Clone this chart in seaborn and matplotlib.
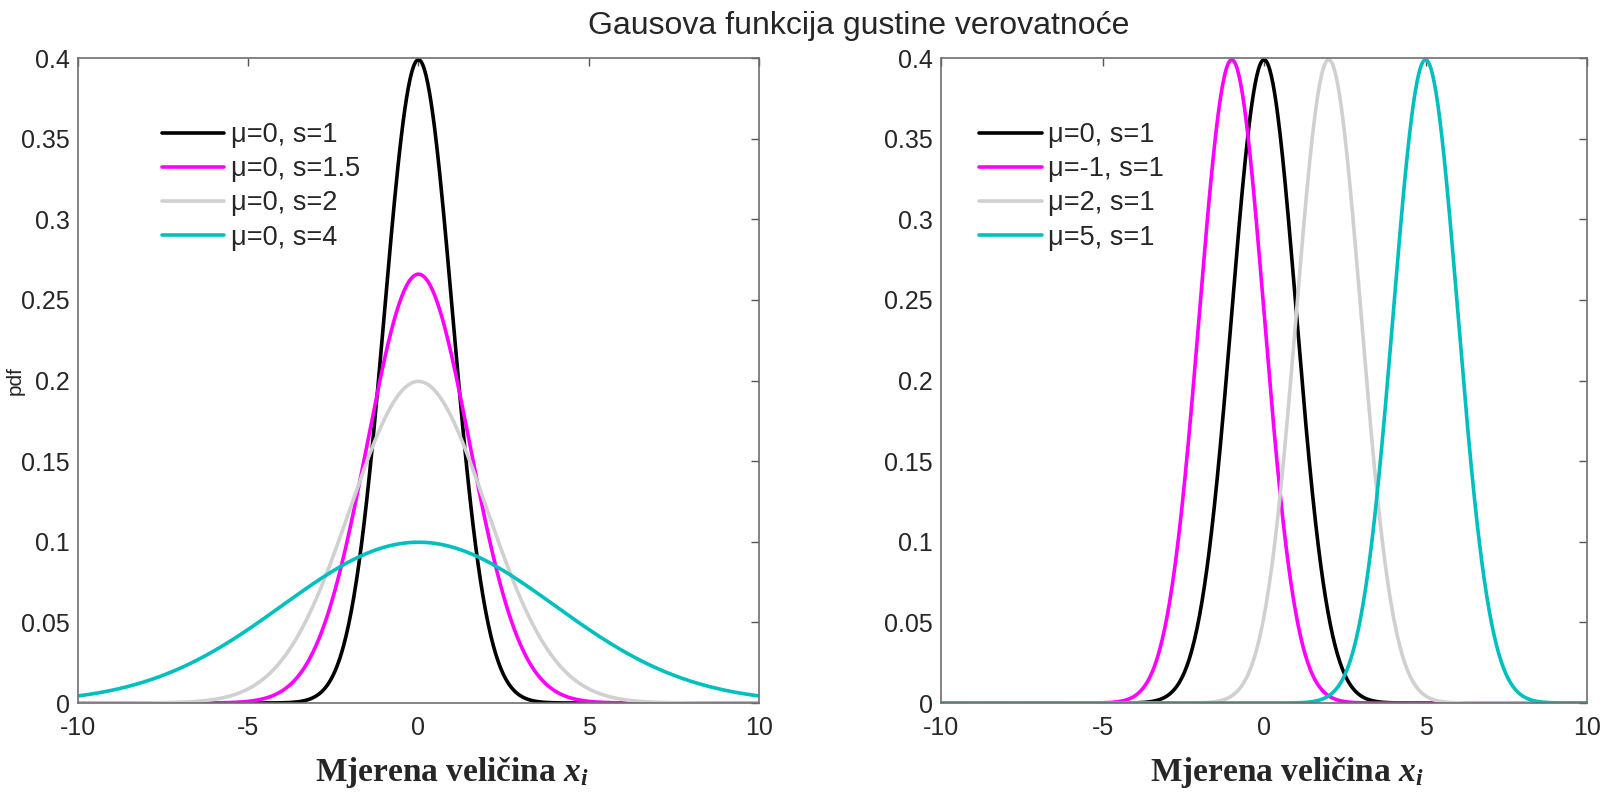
import numpy as np
import pandas as pd
import matplotlib
matplotlib.use("Agg")
import matplotlib.pyplot as plt
import seaborn as sns

# parameters of the curves (read from legends)
left_mu = [0, 0, 0, 0]
left_s = [1, 1.5, 2, 4]
right_mu = [0, -1, 2, 5]
right_s = [1, 1, 1, 1]
colors = ["#000000", "#FF00FF", "#D0D0D0", "#00BFBF"]
x_ticks = [-10, -5, 0, 5, 10]
y_ticks = [0, 0.05, 0.1, 0.15, 0.2, 0.25, 0.3, 0.35, 0.4]
title = "Gausova funkcija gustine verovatnoće"

sns.set_style("white")
plt.rcParams["font.family"] = ["Liberation Sans", "DejaVu Sans"]
plt.rcParams["axes.unicode_minus"] = False
plt.rcParams["mathtext.fontset"] = "custom"
plt.rcParams["mathtext.it"] = "Liberation Serif:italic:bold"
plt.rcParams["mathtext.rm"] = "Liberation Serif:bold"

x = np.linspace(-10, 10, 801)


def gauss_frame(mus, sds):
    rows = []
    for mu, s in zip(mus, sds):
        lab = f"μ={mu:g}, s={s:g}"
        y = np.exp(-0.5 * ((x - mu) / s) ** 2) / (s * np.sqrt(2 * np.pi))
        rows.append(pd.DataFrame({"x": x, "pdf": y, "label": lab}))
    return pd.concat(rows, ignore_index=True)


fig = plt.figure(figsize=(16.07, 7.95), dpi=100)
ax1 = fig.add_axes([0.0485, 0.1157, 0.4238, 0.8113])
ax2 = fig.add_axes([0.5856, 0.1157, 0.402, 0.8113])

for ax, mus, sds, leg_x in [(ax1, left_mu, left_s, 0.095), (ax2, right_mu, right_s, 0.03)]:
    df = gauss_frame(mus, sds)
    sns.lineplot(data=df, x="x", y="pdf", hue="label", palette=colors,
                 linewidth=2.6, ax=ax, legend=True)
    ax.set_xlim(-10, 10)
    ax.set_ylim(0, 0.4)
    ax.set_xticks(x_ticks)
    ax.set_yticks(y_ticks)
    ax.set_yticklabels([f"{v:g}" for v in y_ticks])
    ax.tick_params(direction="in", length=6, width=1, color="#555555",
                   labelsize=18, top=True, right=True)
    ax.tick_params(axis="x", pad=9)
    ax.tick_params(axis="y", pad=6)
    for sp in ax.spines.values():
        sp.set_color("#6e6e6e")
        sp.set_linewidth(1.2)
    ax.set_xlabel("")
    ax.set_ylabel("")
    ax.legend(frameon=False, fontsize=19.5, handlelength=2.3, handletextpad=0.25,
              labelspacing=0.3, loc="upper left", bbox_to_anchor=(leg_x, 0.93),
              borderaxespad=0.3)

ax1.set_ylabel("pdf", fontsize=15)
ax1.yaxis.set_label_coords(-0.078, 0.5)

fig.text(0.5345, 0.967, title, ha="center", va="center", fontsize=23)
xlab = r"Mjerena veličina $x_i$"
fig.text(0.281, 0.017, xlab, ha="center", va="baseline", fontsize=24,
         family="Liberation Serif", fontweight="bold")
fig.text(0.801, 0.017, xlab, ha="center", va="baseline", fontsize=24,
         family="Liberation Serif", fontweight="bold")

fig.savefig("out.png", dpi=100)
